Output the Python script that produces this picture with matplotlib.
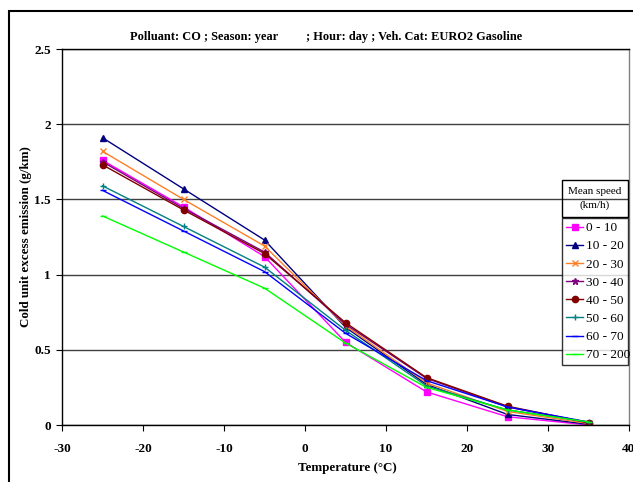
import numpy as np
import matplotlib
matplotlib.use('Agg')
import matplotlib.pyplot as plt
from matplotlib.patches import Rectangle

plt.rcParams['font.family'] = ['Liberation Serif', 'DejaVu Serif']
plt.rcParams['axes.unicode_minus'] = False

# data ---------------------------------------------------------------------
temps = [-25, -15, -5, 5, 15, 25, 35]
speed_labels = ['0 - 10', '10 - 20', '20 - 30', '30 - 40', '40 - 50',
                '50 - 60', '60 - 70', '70 - 200']
v_0_10 = [1.76, 1.45, 1.12, 0.55, 0.22, 0.055, 0.0]
v_10_20 = [1.91, 1.57, 1.23, 0.65, 0.27, 0.07, 0.005]
v_20_30 = [1.82, 1.50, 1.19, 0.66, 0.28, 0.09, 0.01]
v_30_40 = [1.75, 1.44, 1.15, 0.67, 0.31, 0.12, 0.015]
v_40_50 = [1.73, 1.43, 1.14, 0.68, 0.315, 0.125, 0.015]
v_50_60 = [1.59, 1.32, 1.05, 0.63, 0.26, 0.10, 0.02]
v_60_70 = [1.56, 1.29, 1.02, 0.61, 0.295, 0.12, 0.02]
v_70_200 = [1.39, 1.15, 0.91, 0.545, 0.25, 0.10, 0.02]
series = [v_0_10, v_10_20, v_20_30, v_30_40, v_40_50, v_50_60, v_60_70, v_70_200]

colors = ['#FF00FF', '#000080', '#FF7F27', '#800080', '#800000',
          '#008080', '#0000FF', '#00FF00']
markers = ['s', '^', 'x', '*', 'o', '+', '_', '_']

W, H = 633, 482
fig = plt.figure(figsize=(W / 100, H / 100), dpi=100)
ax = fig.add_axes([62 / W, 1 - 425 / H, 567 / W, 376 / H])

for vals, lab, c, m in zip(series, speed_labels, colors, markers):
    ax.plot(temps, vals, color=c, marker=m, markersize=4.5, linewidth=1,
            markeredgewidth=1, label=lab)

ax.set_xlim(-30, 40)
ax.set_ylim(0, 2.5)
ax.set_xticks(np.arange(-30, 41, 10))
ax.set_yticks([0, 0.5, 1, 1.5, 2, 2.5])
ax.set_yticklabels(['0', '0.5', '1', '1.5', '2', '2.5'])
ax.yaxis.grid(True, color='#404040', linewidth=1)
ax.set_axisbelow(True)
ax.spines['right'].set_color('#808080')
for s in ax.spines.values():
    s.set_linewidth(1)
ax.tick_params(direction='out', length=4, labelsize=9.5)
ax.tick_params(axis='x', pad=9)
ax.tick_params(axis='y', pad=4)
for t in ax.get_xticklabels() + ax.get_yticklabels():
    t.set_fontweight('bold')

ax.set_xlabel('Temperature (°C)', fontsize=9.4, fontweight='bold')
ax.set_ylabel('Cold unit excess emission (g/km)', fontsize=9.4,
              fontweight='bold')
ax.xaxis.set_label_coords(0.504, -0.098)
ax.yaxis.set_label_coords(-0.053, 0.5)

fig.text(326 / W, 1 - 37 / H,
         'Polluant: CO ; Season: year         ; Hour: day ; Veh. Cat: EURO2 Gasoline',
         ha='center', va='center', fontsize=8.9, fontweight='bold')

# legend: title box + entries box
fig.add_artist(Rectangle((562 / W, 1 - 217 / H), 66 / W, 37 / H,
                         transform=fig.transFigure, fill=False,
                         edgecolor='black', linewidth=1))
fig.text(595 / W, 1 - 198.5 / H, 'Mean speed\n(km/h)', ha='center',
         va='center', fontsize=8, linespacing=1.6)

leg = fig.legend(loc='upper left',
                 bbox_to_anchor=(562 / W, 1 - 365 / H, 66 / W, 147 / H),
                 mode='expand', fontsize=9.5, frameon=True, fancybox=False,
                 edgecolor='black', handlelength=1.3, handletextpad=0.2,
                 borderpad=0.3, labelspacing=0.45, borderaxespad=0)
leg.get_frame().set_linewidth(1)

# outer chart frame
fig.add_artist(Rectangle((9 / W, -0.05), 1.0, 1 - 11 / H + 0.05,
                         transform=fig.transFigure, fill=False,
                         edgecolor='black', linewidth=1.5))

fig.savefig('out.png', dpi=100)
